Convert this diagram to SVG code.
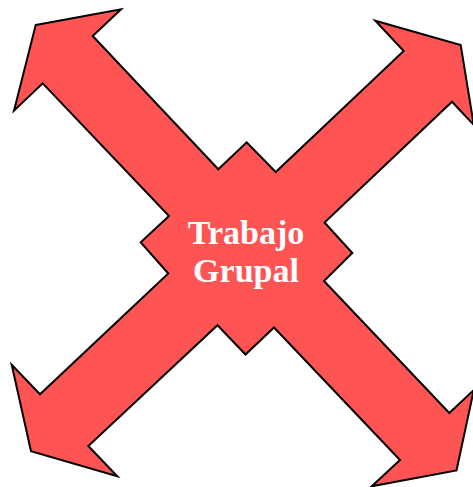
<svg xmlns="http://www.w3.org/2000/svg" width="473" height="487" viewBox="0 0 473 487">
  <style>
    .shape { fill: #FF5454; stroke: #000000; stroke-width: 2; stroke-linejoin: miter; }
    .label { font-family: "Liberation Serif", "Times New Roman", serif; font-weight: bold; font-size: 34px; fill: #FFFFFF; text-anchor: middle; }
  </style>
  <rect width="473" height="487" fill="#FFFFFF"/>
  <g id="quad-arrow">
    <polygon class="shape" points="35.7,25 121,9.3 92.7,36 218.3,169.3 246.7,142.3 275.7,172 403.7,51 375.3,20.7 460.7,45 473.8,125 452,101.7 324.5,222.5 352.3,253 324,281 449.3,413 473.8,390 456.5,470.5 371.7,486.3 400,460 274,327.5 245.5,354.5 217.5,325.2 88.3,446 117.3,476.3 31,451.3 11.7,364.7 40,394.3 168.3,273.5 140.7,242.3 169,216 42.7,83.3 14,110.7"/>
    <text class="label" x="246" y="243.5">Trabajo</text>
    <text class="label" x="246" y="281.5">Grupal</text>
  </g>
</svg>
